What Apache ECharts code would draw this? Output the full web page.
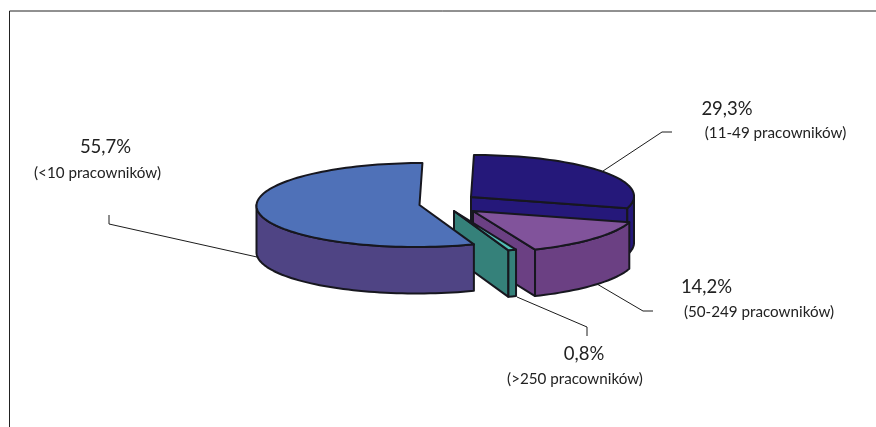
<!DOCTYPE html>
<html>
<head>
<meta charset="utf-8">
<style>html,body{margin:0;padding:0;background:#fff}#chart{width:876px;height:427px}</style>
<script src="https://cdn.jsdelivr.net/npm/echarts@6/dist/echarts.min.js"></script>
</head>
<body>
<div id="chart"></div>
<script>
// Firm-size shares, clockwise from twelve o'clock
const categories = ['11-49 pracowników', '50-249 pracowników', '>250 pracowników', '<10 pracowników'];
const shares = [29.3, 14.2, 0.8, 55.7];

// Projection of the tilted disc
const RX = 163, RY = 42, DEPTH = 46.5, SKEW = 0.07;
// Exploded slice hubs, in paint order (back to front)
const hubs = [[471, 197], [473, 211], [454, 211], [419.5, 205]];
const topColors = ['#25187a', '#81539b', '#52bfb6', '#4f71b8'];
const sideColors = ['#25187a', '#6b4083', '#35817a', '#4f4484'];
const edge = '#17171f';
// Text and leader layout per slice
const valueLabels = [[727, 109], [706.5, 287], [584, 354], [105.5, 147]];
const nameLabels = [[775.5, 133], [759, 312], [575, 379], [97.5, 173]];
const leaders = [
  [[672, 132], [662, 132], [603, 171]],
  [[653, 311], [643, 311], [597, 284]],
  [[587, 336], [587, 327], [517, 297]],
  [[109, 215], [109, 224], [257, 257]]
];

const rim = (hub, deg, drop) => {
  const a = deg * Math.PI / 180;
  const dy = -Math.cos(a) * RY;
  return [hub[0] + Math.sin(a) * RX - dy * SKEW, hub[1] + dy + (drop || 0)];
};
const arc = (hub, from, to, drop) => {
  const pts = [];
  const n = Math.max(2, Math.ceil((to - from) / 2));
  for (let i = 0; i <= n; i++) pts.push(rim(hub, from + (to - from) * i / n, drop));
  return pts;
};
const poly = (points, fill) => ({
  type: 'polygon',
  shape: { points },
  style: { fill, stroke: edge, lineWidth: 2, lineJoin: 'round' }
});

function renderSlice(params, api) {
  const i = params.dataIndex;
  const total = shares.reduce((s, v) => s + v, 0);
  const start = shares.slice(0, i).reduce((s, v) => s + v, 0) / total * 360;
  const end = start + api.value(0) / total * 360;
  const hub = hubs[i];
  const children = [];

  // Leader goes underneath the solid
  children.push({
    type: 'polyline',
    shape: { points: leaders[i] },
    style: { fill: null, stroke: '#1c1c1c', lineWidth: 1 }
  });

  // Cut face on the clockwise end, visible only when it looks toward the viewer
  if (end < 359) {
    const p = rim(hub, end);
    children.push(poly([hub, p, [p[0], p[1] + DEPTH], [hub[0], hub[1] + DEPTH]], sideColors[i]));
  }
  // Front wall
  const wallFrom = Math.max(start, 90), wallTo = Math.min(end, 270);
  if (wallTo > wallFrom) {
    const outer = arc(hub, wallFrom, wallTo);
    const lower = arc(hub, wallFrom, wallTo, DEPTH).reverse();
    children.push(poly(outer.concat(lower), sideColors[i]));
  }
  // Top face
  children.push(poly([hub].concat(arc(hub, start, end)), topColors[i]));

  // Value and group name
  children.push({
    type: 'text',
    style: {
      x: valueLabels[i][0], y: valueLabels[i][1],
      text: api.value(0).toFixed(1).replace('.', ',') + '%',
      font: '18.5px Lato', fill: '#222', align: 'center', verticalAlign: 'middle'
    }
  });
  children.push({
    type: 'text',
    style: {
      x: nameLabels[i][0], y: nameLabels[i][1],
      text: '(' + categories[i] + ')',
      font: '15.2px Lato', fill: '#222', align: 'center', verticalAlign: 'middle'
    }
  });
  return { type: 'group', children };
}

const chart = echarts.init(document.getElementById('chart'), null, { renderer: 'canvas' });
chart.setOption({
  animation: false,
  backgroundColor: '#fff',
  graphic: [{
    type: 'polyline',
    silent: true,
    shape: { points: [[9.5, 427], [9.5, 11], [876, 11]] },
    style: { fill: null, stroke: '#222', lineWidth: 1 }
  }],
  series: [{
    type: 'custom',
    coordinateSystem: 'none',
    silent: true,
    renderItem: renderSlice,
    data: shares.map(v => [v])
  }]
});
</script>
</body>
</html>
